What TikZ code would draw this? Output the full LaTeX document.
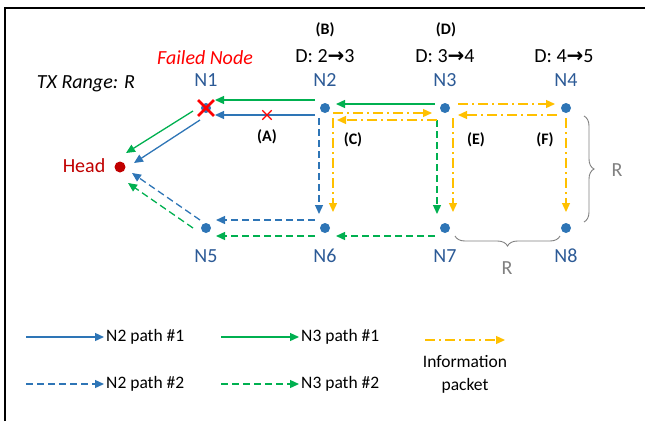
\documentclass[tikz,border=0pt]{standalone}
\usepackage{fontspec}
\setmainfont{Carlito}
\newfontfamily\arrowfont{DejaVu Sans}
\usepackage{tikz}
\usetikzlibrary{calc,arrows.meta,shapes.misc,decorations.pathreplacing}

\definecolor{pathblue}{RGB}{46,117,182}
\definecolor{pathgreen}{RGB}{0,176,80}
\definecolor{infoyellow}{RGB}{255,192,0}
\definecolor{headred}{RGB}{192,0,0}
\definecolor{labelblue}{RGB}{44,90,150}
\definecolor{bracegray}{RGB}{128,128,128}

% hop count change, e.g. D: 2 -> 3
\newcommand{\hopchange}[2]{D: #1{\arrowfont\bfseries\char"2192}#2}

\tikzset{
  dot/.style={circle, fill=pathblue, minimum size=10pt, inner sep=0pt},
  big/.style={font=\fontsize{20}{24}\selectfont},
  nlabel/.style={big, text=labelblue},
  plain/.style={font=\fontsize{17.5}{20}\selectfont},
  tag/.style={font=\fontsize{16}{18}\selectfont\bfseries},
  link/.style={line width=1.3pt, -{Triangle[length=9pt,width=8pt]}},
  blueone/.style={link, pathblue},
  bluetwo/.style={link, pathblue, dash pattern=on 7pt off 4pt},
  greenone/.style={link, pathgreen},
  greentwo/.style={link, pathgreen, dash pattern=on 7pt off 4pt},
  info/.style={link, infoyellow, dash pattern=on 10pt off 4pt on 2pt off 4pt},
  rbrace/.style={bracegray, line width=0.9pt, decorate, decoration={brace, amplitude=10pt}},
  rlabel/.style={big, text=bracegray},
  legend/.style={plain, inner sep=2pt, anchor=west}
}

\begin{document}
\begin{tikzpicture}[x=1pt, y=-1pt]
  \useasboundingbox (0,0) rectangle (645,421);
  % frame, cut at right and bottom
  \draw[line width=1.6pt] (5,421) -- (5,8) -- (645,8);

  % Nodes
  \node[dot, fill=headred, minimum size=11pt] (head) at (120,167) {};
  \node[dot] (n1) at (206,108) {};
  \node[dot] (n2) at (325,108) {};
  \node[dot] (n3) at (445,108) {};
  \node[dot] (n4) at (566,108) {};
  \node[dot] (n5) at (206,228) {};
  \node[dot] (n6) at (325,228) {};
  \node[dot] (n7) at (445,228) {};
  \node[dot] (n8) at (566,228) {};
  \node[cross out, draw=red, line width=2.8pt, minimum size=13pt, inner sep=0pt] (fail) at (n1) {};

  % Labels
  \node[big, text=headred] (headl) at (84,166) {Head};
  \node[big, font=\fontsize{20}{24}\selectfont\itshape] (range) at (86,84) {TX Range: R};
  \node[big, text=red, font=\fontsize{20}{24}\selectfont\itshape] (faill) at (205,58) {Failed Node};
  \node[nlabel] (n1l) at (206,80) {N1};
  \node[nlabel] (n2l) at (325,80) {N2};
  \node[nlabel] (n3l) at (445,80) {N3};
  \node[nlabel] (n4l) at (566,80) {N4};
  \node[nlabel] (n5l) at (206,256) {N5};
  \node[nlabel] (n6l) at (325,256) {N6};
  \node[nlabel] (n7l) at (445,256) {N7};
  \node[nlabel] (n8l) at (566,256) {N8};
  \node[big] (d2) at (325,56) {\hopchange{2}{3}};
  \node[big] (d3) at (445,56) {\hopchange{3}{4}};
  \node[big] (d4) at (564,56) {\hopchange{4}{5}};
  \node[tag] (tb) at (325,30) {(B)};
  \node[tag] (td) at (446,30) {(D)};
  \node[tag] (ta) at (267,137) {(A)};
  \node[tag] (tc) at (353,140) {(C)};
  \node[tag] (te) at (476,140) {(E)};
  \node[tag] (tf) at (545,140) {(F)};

  % N2 path #1 (broken link at N1)
  \draw[blueone] ($(n2)+(-10,7)$) -- ($(n1)+(9,7)$);
  \draw[blueone] ($(n1)+(-6,12)$) -- ($(head)+(14,-4)$);
  \node[cross out, draw=red, line width=1.3pt, minimum size=8pt, inner sep=0pt] (cut) at (267,115) {};
  % N3 path #1
  \draw[greenone] ($(n3)+(-10,-4)$) -- ($(n2)+(11,-4)$);
  \draw[greenone] ($(n2)+(-10,-8)$) -- ($(n1)+(9,-8)$);
  \draw[greenone] ($(n1)+(-13,3)$) -- ($(head)+(6,-14)$);
  % N2 path #2
  \draw[bluetwo] ($(n2)+(-6,10)$) -- ($(n6)+(-6,-14)$);
  \draw[bluetwo] ($(n6)+(-10,-8)$) -- ($(n5)+(10,-8)$);
  \draw[bluetwo] ($(n5)+(-6,-8)$) -- ($(head)+(12,6)$);
  % N3 path #2
  \draw[greentwo] ($(n3)+(-8,12)$) -- ($(n7)+(-8,-14)$);
  \draw[greentwo] ($(n7)+(-10,8)$) -- ($(n6)+(11,8)$);
  \draw[greentwo] ($(n6)+(-10,8)$) -- ($(n5)+(10,8)$);
  \draw[greentwo] ($(n5)+(-13,0)$) -- ($(head)+(8,16)$);
  % Information packets
  \draw[info] ($(n2)+(8,5)$) -- ($(n3)+(-13,5)$);
  \draw[info] ($(n2)+(8,10)$) -- ($(n6)+(8,-16)$);
  \draw[info] ($(n3)+(-8,12)$) -- ($(n2)+(12,12)$);
  \draw[info] ($(n3)+(13,-4)$) -- ($(n4)+(-11,-4)$);
  \draw[info] ($(n4)+(-9,7)$) -- ($(n3)+(13,7)$);
  \draw[info] ($(n3)+(8,10)$) -- ($(n7)+(8,-16)$);
  \draw[info] ($(n4)+(0,10)$) -- ($(n8)+(0,-16)$);

  % Range braces
  \draw[rbrace] ($(n4)+(18,8)$) -- ($(n8)+(18,-6)$);
  \node[rlabel] (rv) at (617,170) {R};
  \draw[rbrace] ($(n8)+(-6,8)$) -- ($(n7)+(10,8)$);
  \node[rlabel] (rh) at (507,268) {R};

  % Legend
  \coordinate (k1s) at (26,337);
  \coordinate (k2s) at (221,337);
  \coordinate (k3s) at (26,384);
  \coordinate (k4s) at (221,384);
  \coordinate (k5s) at (425,340);
  \coordinate (k5e) at (505,340);
  \node[legend] (k1) at (104,337) {N2 path \#1};
  \node[legend] (k2) at (299,337) {N3 path \#1};
  \node[legend] (k3) at (104,384) {N2 path \#2};
  \node[legend] (k4) at (299,384) {N3 path \#2};
  \node[plain, align=center, font=\fontsize{17.5}{23}\selectfont] (k5) at (465,374) {Information\\packet};
  \draw[blueone] (k1s) -- (k1.west);
  \draw[greenone] (k2s) -- (k2.west);
  \draw[bluetwo] (k3s) -- (k3.west);
  \draw[greentwo] (k4s) -- (k4.west);
  \draw[info] (k5s) -- (k5e);
\end{tikzpicture}
\end{document}
